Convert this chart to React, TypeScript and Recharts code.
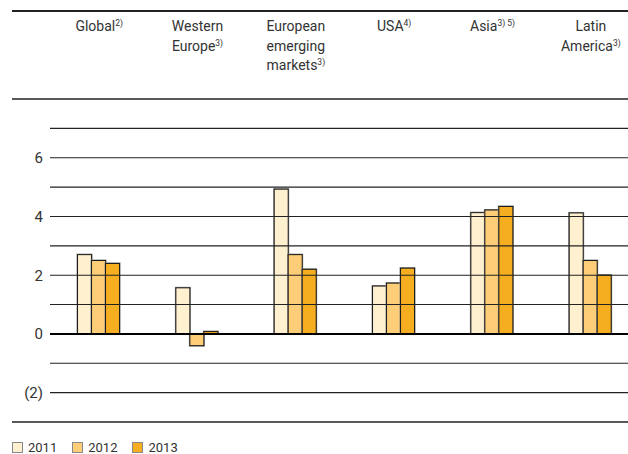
import { BarChart, Bar, XAxis, YAxis, ReferenceLine, Legend } from 'recharts';

const regions = ['Global', 'Western Europe', 'European emerging markets', 'USA', 'Asia', 'Latin America'];
const regionLines = [['Global'], ['Western', 'Europe'], ['European', 'emerging', 'markets'], ['USA'], ['Asia'], ['Latin', 'America']];
const regionNotes = ['2)', '3)', '3)', '4)', '3) 5)', '3)'];
const values2011 = [2.7, 1.57, 4.93, 1.63, 4.13, 4.12];
const values2012 = [2.5, -0.4, 2.7, 1.73, 4.22, 2.5];
const values2013 = [2.4, 0.08, 2.2, 2.24, 4.34, 2.0];
const years = ['2011', '2012', '2013'];
const yearColors = ['#FFF0CF', '#FDCD77', '#F5AE1F'];
const yTicks = [-2, 0, 2, 4, 6];
const gridValues = [-2, -1, 1, 2, 3, 4, 5, 6, 7];
const longLines = [-3, 8, 11];

const data = regions.map((name, i) => ({
  name,
  y2011: values2011[i],
  y2012: values2012[i],
  y2013: values2013[i],
}));

const FONT = 'Roboto, "DejaVu Sans", sans-serif';
const TEXT = '#333';

function formatTick(v: number): string {
  return v < 0 ? `(${Math.abs(v)})` : String(v);
}

function RegionTick(props: any) {
  const { x, y, index } = props;
  const lines = regionLines[index] ?? [];
  return (
    <text x={x} y={y + 15} textAnchor="middle" fontFamily={FONT} fontSize={14} fill={TEXT}>
      {lines.map((line, i) => (
        <tspan key={i} x={x} dy={i === 0 ? 0 : 19.5}>
          {line}
          {i === lines.length - 1 && (
            <tspan fontSize={8.5} dy={-5}>{regionNotes[index]}</tspan>
          )}
        </tspan>
      ))}
    </text>
  );
}

// grid rules that reach out past the y labels
function LongLine(props: any) {
  const { x1, y1, x2, y2 } = props;
  return <line x1={x1 - 38} y1={y1} x2={x2} y2={y2} stroke="#222" strokeWidth={1.3} />;
}

function BarShape(props: any) {
  const { x, y, width, height, fill } = props;
  if (height == null || width == null) return null;
  const h = Math.abs(height);
  const top = height < 0 ? y + height : y;
  return (
    <g>
      <rect x={x} y={top} width={width} height={h} fill={fill} stroke="#8a8a8a" strokeWidth={2} />
      <rect x={x} y={top} width={width} height={h} fill={fill} stroke="#1a1a1a" strokeWidth={1} />
    </g>
  );
}

function LegendContent() {
  return (
    <div style={{ display: 'flex', alignItems: 'center', paddingLeft: 12, fontFamily: FONT, fontSize: 13, color: TEXT, height: 16 }}>
      {years.map((year, i) => (
        <div key={year} style={{ display: 'flex', alignItems: 'center', marginRight: 15 }}>
          <span style={{ display: 'inline-block', width: 9, height: 9, background: yearColors[i], border: '1px solid #888', marginRight: 5 }} />
          <span>{year}</span>
        </div>
      ))}
    </div>
  );
}

export default function App() {
  return (
    <div style={{ position: 'absolute', left: 0, top: 0, width: 628, height: 454, overflow: 'hidden', background: '#fff' }}>
      <BarChart
        width={640}
        height={454}
        data={data}
        margin={{ top: 8, right: 0, bottom: 16, left: 0 }}
        barCategoryGap="28%"
        barGap={0}
      >
        <XAxis
          dataKey="name"
          orientation="top"
          mirror
          axisLine={false}
          tickLine={false}
          tick={<RegionTick />}
          interval={0}
        />
        <YAxis
          domain={[-3, 11.1]}
          allowDataOverflow
          ticks={yTicks}
          tickFormatter={formatTick}
          axisLine={false}
          tickLine={false}
          width={50}
          tick={{ fontFamily: FONT, fontSize: 15, fill: TEXT }}
          tickMargin={1}
        />
        {gridValues.map(v => (
          <ReferenceLine key={v} y={v} stroke="#222" strokeWidth={1.1} />
        ))}
        {longLines.map(v => (
          <ReferenceLine key={`l${v}`} y={v} ifOverflow="visible" shape={<LongLine />} />
        ))}
        <ReferenceLine y={0} stroke="#000" strokeWidth={2} />
        <Bar dataKey="y2011" fill={yearColors[0]} shape={<BarShape />} isAnimationActive={false} />
        <Bar dataKey="y2012" fill={yearColors[1]} shape={<BarShape />} isAnimationActive={false} />
        <Bar dataKey="y2013" fill={yearColors[2]} shape={<BarShape />} isAnimationActive={false} />
        <Legend content={<LegendContent />} verticalAlign="bottom" align="left" height={16} wrapperStyle={{ left: 0, bottom: -1 }} />
      </BarChart>
      <div style={{ position: 'absolute', zIndex: 5, left: 12, top: 10, width: 616, height: 1.5, background: '#222' }} />
    </div>
  );
}
